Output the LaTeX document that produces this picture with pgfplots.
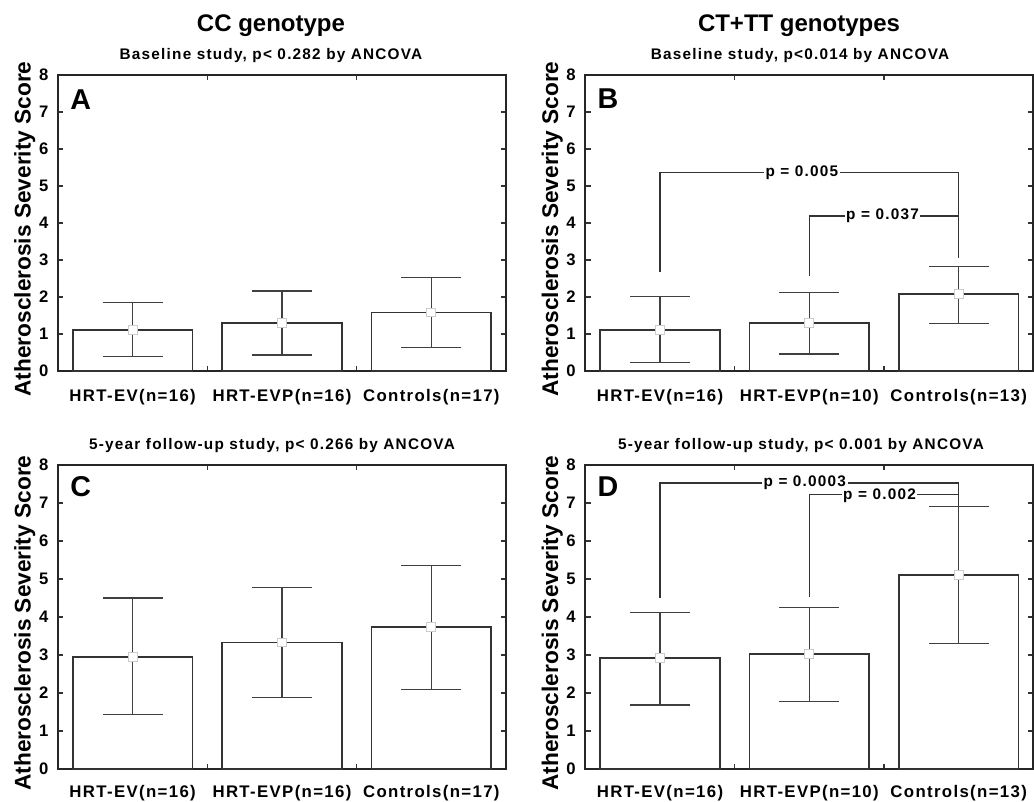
\documentclass[border=0pt]{standalone}
\usepackage{fontspec}
\setmainfont{Liberation Sans}
\newfontfamily\spaced[LetterSpace=8]{Liberation Sans}
\usepackage{pgfplots}
\usepackage{pgfplotstable}
\pgfplotsset{compat=1.18}

% x  mean  err+  err-
\pgfplotstableread{
x y ep em
0 1.11 0.74 0.72
1 1.29 0.87 0.86
2 1.58 0.94 0.95
}\tabA
\pgfplotstableread{
x y ep em
0 1.11 0.90 0.88
1 1.29 0.83 0.83
2 2.08 0.74 0.79
}\tabB
\pgfplotstableread{
x y ep em
0 2.95 1.55 1.51
1 3.33 1.45 1.45
2 3.73 1.62 1.64
}\tabC
\pgfplotstableread{
x y ep em
0 2.93 1.19 1.25
1 3.02 1.23 1.25
2 5.11 1.80 1.81
}\tabD

\pgfplotsset{
  panel/.style={
    scale only axis, width=336pt,
    xmin=-0.5, xmax=2.5, ymin=0, ymax=8,
    ytick={0,...,8}, xtick={0,1,2}, minor xtick={0.5,1.5},
    tick align=inside, major tick length=4pt, minor tick length=4pt,
    every major x tick/.append style={draw=none},
    tick style={line width=1pt, black!80},
    axis line style={line width=1.3pt, black!85},
    /pgf/number format/assume math mode=true,
    yticklabel style={font=\fontsize{12.5}{14}\selectfont\bfseries, anchor=east, inner sep=0pt, xshift=-7pt},
    xticklabel style={font=\spaced\fontsize{12.6}{14}\selectfont\bfseries, anchor=base, yshift=-23pt},
    ylabel={Atherosclerosis Severity Score},
    ylabel style={at={(axis description cs:-0.074,0.48)}, anchor=center, font=\fontsize{17}{19}\selectfont\bfseries},
    clip=false,
  },
  lower/.style={xticklabel style={yshift=2pt}},
  bars/.style={ybar, bar width=0.8, fill=white, draw=black!80, line width=1.3pt,
    error bars/.cd, y dir=both, y explicit,
    error bar style={line width=1.1pt, black!75},
    error mark options={rotate=90, mark size=22.5pt, line width=1.1pt, black!75}},
  means/.style={only marks, mark=square*, mark size=3.3pt,
    mark options={fill=white, draw=black!20, line width=0.8pt}},
  brk/.style={line width=1.1pt, black!80},
}
\tikzset{
  plab/.style={fill=white, inner sep=1.2pt, font=\spaced\fontsize{11.5}{13}\selectfont\bfseries},
  letter/.style={anchor=base west, inner sep=0pt, font=\fontsize{21.5}{23}\selectfont\bfseries},
}

\begin{document}
\begin{tikzpicture}
\useasboundingbox (0,0) rectangle (775.5pt,600.75pt);

\node[anchor=base, font=\fontsize{18}{20}\selectfont\bfseries] at (203.25pt,577pt) {CC genotype};
\node[anchor=base, font=\fontsize{18}{20}\selectfont\bfseries] at (599.25pt,577pt) {CT+TT genotypes};
\node[anchor=base, font=\spaced\fontsize{11.5}{13}\selectfont\bfseries] at (203.25pt,556.3pt) {Baseline study, p< 0.282 by ANCOVA};
\node[anchor=base, font=\spaced\fontsize{11.5}{13}\selectfont\bfseries] at (600pt,556.3pt) {Baseline study, p<0.014 by ANCOVA};
\node[anchor=base, font=\spaced\fontsize{11.5}{13}\selectfont\bfseries] at (204pt,264pt) {5-year follow-up study, p< 0.266 by ANCOVA};
\node[anchor=base, font=\spaced\fontsize{11.5}{13}\selectfont\bfseries] at (600.75pt,264pt) {5-year follow-up study, p< 0.001 by ANCOVA};

% A
\begin{axis}[panel, height=222pt, at={(43.5pt,322.5pt)}, anchor=south west,
  xticklabels={HRT-EV(n=16),HRT-EVP(n=16),Controls(n=17)}]
  \addplot[bars] table[x=x, y=y, y error plus=ep, y error minus=em] {\tabA};
  \addplot[means] table[x=x, y=y] {\tabA};
  \node[letter] at (axis description cs:0.027,0.882) {A};
\end{axis}

% B
\begin{axis}[panel, height=222pt, at={(439pt,322.5pt)}, anchor=south west,
  xticklabels={HRT-EV(n=16),HRT-EVP(n=10),Controls(n=13)}]
  \addplot[bars] table[x=x, y=y, y error plus=ep, y error minus=em] {\tabB};
  \addplot[means] table[x=x, y=y] {\tabB};
  \addplot[brk] coordinates {(0,2.68) (0,5.36) (2,5.36) (2,3.05)};
  \addplot[brk] coordinates {(1,2.57) (1,4.19) (2,4.19)};
  \node[plab] at (axis cs:0.95,5.36) {p = 0.005};
  \node[plab] at (axis cs:1.49,4.19) {p = 0.037};
  \node[letter] at (axis description cs:0.027,0.887) {B};
\end{axis}

% C
\begin{axis}[panel, lower, height=228pt, at={(43.5pt,24pt)}, anchor=south west,
  xticklabels={HRT-EV(n=16),HRT-EVP(n=16),Controls(n=17)}]
  \addplot[bars] table[x=x, y=y, y error plus=ep, y error minus=em] {\tabC};
  \addplot[means] table[x=x, y=y] {\tabC};
  \node[letter] at (axis description cs:0.027,0.895) {C};
\end{axis}

% D
\begin{axis}[panel, lower, height=228pt, at={(439pt,24pt)}, anchor=south west,
  xticklabels={HRT-EV(n=16),HRT-EVP(n=10),Controls(n=13)}]
  \addplot[bars] table[x=x, y=y, y error plus=ep, y error minus=em] {\tabD};
  \addplot[means] table[x=x, y=y] {\tabD};
  \addplot[brk] coordinates {(0,4.49) (0,7.53) (2,7.53) (2,6.91)};
  \addplot[brk] coordinates {(1,4.53) (1,7.23) (2,7.23)};
  \node[plab] at (axis cs:0.97,7.53) {p = 0.0003};
  \node[plab] at (axis cs:1.47,7.20) {p = 0.002};
  \node[letter] at (axis description cs:0.027,0.895) {D};
\end{axis}
\end{tikzpicture}
\end{document}
